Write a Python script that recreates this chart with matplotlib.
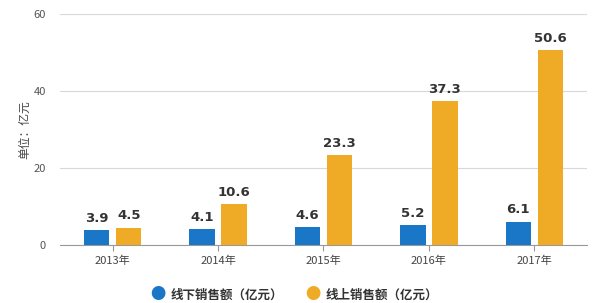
import matplotlib
matplotlib.use("Agg")
import matplotlib.pyplot as plt
import numpy as np

plt.rcParams['font.family'] = ['Noto Sans CJK SC', 'DejaVu Sans']

# 数据
anos = ["2013年", "2014年", "2015年", "2016年", "2017年"]
offline = [3.9, 4.1, 4.6, 5.2, 6.1]
online = [4.5, 10.6, 23.3, 37.3, 50.6]
nomes = ["线下销售额（亿元）", "线上销售额（亿元）"]
cores = ["#1a76c7", "#f0ab26"]

fig = plt.figure(figsize=(5.98, 3.03), dpi=100)
ax = fig.add_axes([0.1003, 0.1914, 0.8813, 0.7624])

x = np.arange(len(anos))
w = 0.24
d = 0.152

ax.bar(x - d, offline, w, color=cores[0], zorder=3)
ax.bar(x + d, online, w, color=cores[1], zorder=3)

# rótulos de valores
for xi, v in zip(x, offline):
    ax.text(xi - d, v + 1.4, f"{v}", ha="center", va="bottom", fontsize=9.5,
            fontweight="bold", color="#333333", family="DejaVu Sans")
for xi, v in zip(x, online):
    ax.text(xi + d, v + 1.4, f"{v}", ha="center", va="bottom", fontsize=9.5,
            fontweight="bold", color="#333333", family="DejaVu Sans")

ax.set_xlim(-0.5, len(anos) - 0.5)
ax.set_ylim(0, 60)
ax.set_yticks([0, 20, 40, 60])
ax.set_xticks(x)
ax.set_xticklabels(anos)
ax.tick_params(axis="y", length=0, labelsize=8, labelcolor="#555555", pad=10)
ax.tick_params(axis="x", length=4, color="#999999", labelsize=8, labelcolor="#444444")

ax.grid(axis="y", color="#d8d8d8", linewidth=0.8, zorder=0)
for s in ["top", "right", "left"]:
    ax.spines[s].set_visible(False)
ax.spines["bottom"].set_color("#999999")

ax.set_ylabel("单位：亿元", fontsize=8.5, color="#444444", labelpad=2)

# legenda
fig.text(0.264, 0.028, "●", color=cores[0], fontsize=11, ha="center", va="center")
fig.text(0.285, 0.026, nomes[0], fontsize=9, fontweight="bold", color="#333333", va="center")
fig.text(0.523, 0.028, "●", color=cores[1], fontsize=11, ha="center", va="center")
fig.text(0.545, 0.026, nomes[1], fontsize=9, fontweight="bold", color="#333333", va="center")

fig.savefig("out.png", dpi=100)
